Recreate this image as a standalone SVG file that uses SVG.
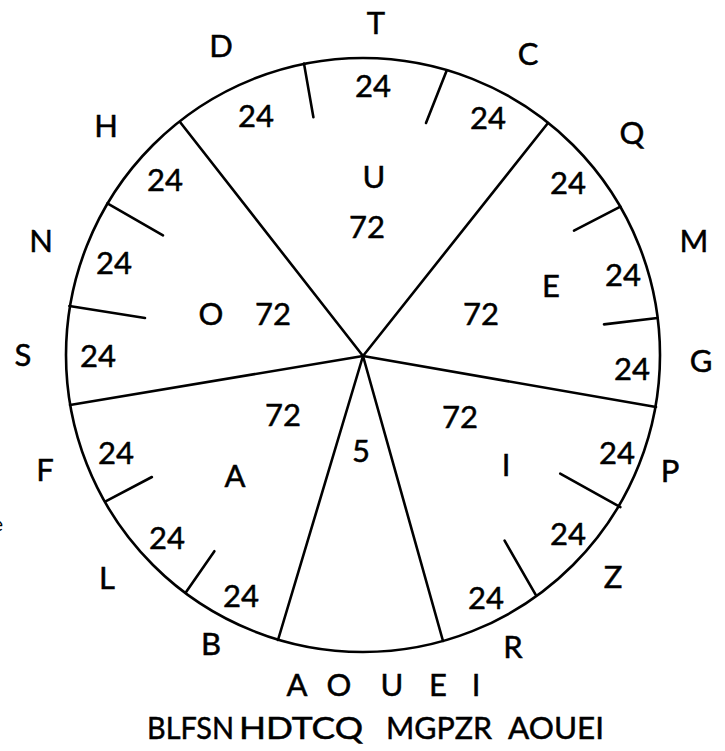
<svg xmlns="http://www.w3.org/2000/svg" width="725" height="751" viewBox="0 0 725 751">
<style>
.t{font-family:Lato,"Open Sans","Liberation Sans",sans-serif;font-size:31px;fill:#000;stroke:#000;stroke-width:0.5;text-anchor:middle}
.ts{font-family:Lato,"Open Sans","Liberation Sans",sans-serif;font-size:31px;fill:#000;stroke:#000;stroke-width:0.5;text-anchor:start}
.ln{stroke:#000;stroke-width:2.6;fill:none;stroke-linecap:round}
</style>
<rect width="725" height="751" fill="#fff"/>
<g id="connectors">
<circle class="ln" cx="363" cy="355" r="297" stroke-width="2.9"/>
<line class="ln" x1="363" y1="356" x2="180" y2="122"/>
<line class="ln" x1="363" y1="356" x2="548" y2="123"/>
<line class="ln" x1="363" y1="356" x2="70" y2="405"/>
<line class="ln" x1="363" y1="356" x2="656" y2="407"/>
<line class="ln" x1="363" y1="356" x2="278" y2="640"/>
<line class="ln" x1="363" y1="356" x2="443" y2="641"/>
<line class="ln" x1="304" y1="63.6" x2="313.4" y2="117.2"/>
<line class="ln" x1="446.8" y1="70.3" x2="426" y2="123"/>
<line class="ln" x1="620.4" y1="206.7" x2="574" y2="230.6"/>
<line class="ln" x1="657.4" y1="318" x2="604" y2="324.4"/>
<line class="ln" x1="107.4" y1="203.3" x2="163" y2="235.4"/>
<line class="ln" x1="69.4" y1="306" x2="145" y2="318"/>
<line class="ln" x1="105.6" y1="501.4" x2="151.9" y2="477"/>
<line class="ln" x1="186.1" y1="591.9" x2="214.4" y2="551.2"/>
<line class="ln" x1="620.4" y1="507.2" x2="560.2" y2="473.7"/>
<line class="ln" x1="535.6" y1="594.7" x2="504.6" y2="540.7"/>
</g>
<g id="outer-labels">
<text class="t" x="376" y="34">T</text>
<text class="t" x="221" y="57">D</text>
<text class="t" x="528" y="65">C</text>
<text class="t" x="106" y="137">H</text>
<text class="t" x="632" y="144">Q</text>
<text class="t" x="41" y="252">N</text>
<text class="t" x="694" y="252">M</text>
<text class="t" x="23" y="366">S</text>
<text class="t" x="701" y="372">G</text>
<text class="t" x="45" y="481">F</text>
<text class="t" x="670" y="482">P</text>
<text class="t" x="107" y="589">L</text>
<text class="t" x="613" y="588">Z</text>
<text class="t" x="211" y="655">B</text>
<text class="t" x="513" y="658">R</text>
<text x="3" y="531" font-family="Lato,sans-serif" font-size="20" text-anchor="end">e</text>
</g>
<g id="sector-U">
<text class="t" x="373" y="97">24</text>
<text class="t" x="256" y="127">24</text>
<text class="t" x="488" y="129">24</text>
<text class="t" x="374" y="188">U</text>
<text class="t" x="367" y="238">72</text>
</g>
<g id="sector-O">
<text class="t" x="165" y="191">24</text>
<text class="t" x="114" y="274">24</text>
<text class="t" x="98" y="367">24</text>
<text class="t" x="211" y="325">O</text>
<text class="t" x="273" y="325">72</text>
</g>
<g id="sector-E">
<text class="t" x="568" y="194">24</text>
<text class="t" x="623" y="286">24</text>
<text class="t" x="632" y="380">24</text>
<text class="t" x="551" y="297">E</text>
<text class="t" x="481" y="325">72</text>
</g>
<g id="sector-A">
<text class="t" x="283" y="426">72</text>
<text class="t" x="116" y="464">24</text>
<text class="t" x="167" y="549">24</text>
<text class="t" x="241" y="607">24</text>
<text class="t" x="235" y="487">A</text>
</g>
<g id="sector-I">
<text class="t" x="460" y="428">72</text>
<text class="t" x="617" y="464">24</text>
<text class="t" x="568" y="545">24</text>
<text class="t" x="486" y="609">24</text>
<text class="t" x="506" y="476">I</text>
</g>
<g id="sector-5">
<text class="t" x="361" y="462">5</text>
</g>
<g id="bottom-text">
<text class="t" x="297" y="696">A</text>
<text class="t" x="339" y="696">O</text>
<text class="t" x="392" y="696">U</text>
<text class="t" x="438" y="696">E</text>
<text class="t" x="476" y="696">I</text>
<text class="ts" x="147" y="739" textLength="87" lengthAdjust="spacingAndGlyphs">BLFSN</text>
<text class="ts" x="239" y="739" textLength="124" lengthAdjust="spacingAndGlyphs">HDTCQ</text>
<text class="ts" x="386" y="739" textLength="106" lengthAdjust="spacingAndGlyphs">MGPZR</text>
<text class="ts" x="508" y="739" textLength="96" lengthAdjust="spacingAndGlyphs">AOUEI</text>
</g>
</svg>
